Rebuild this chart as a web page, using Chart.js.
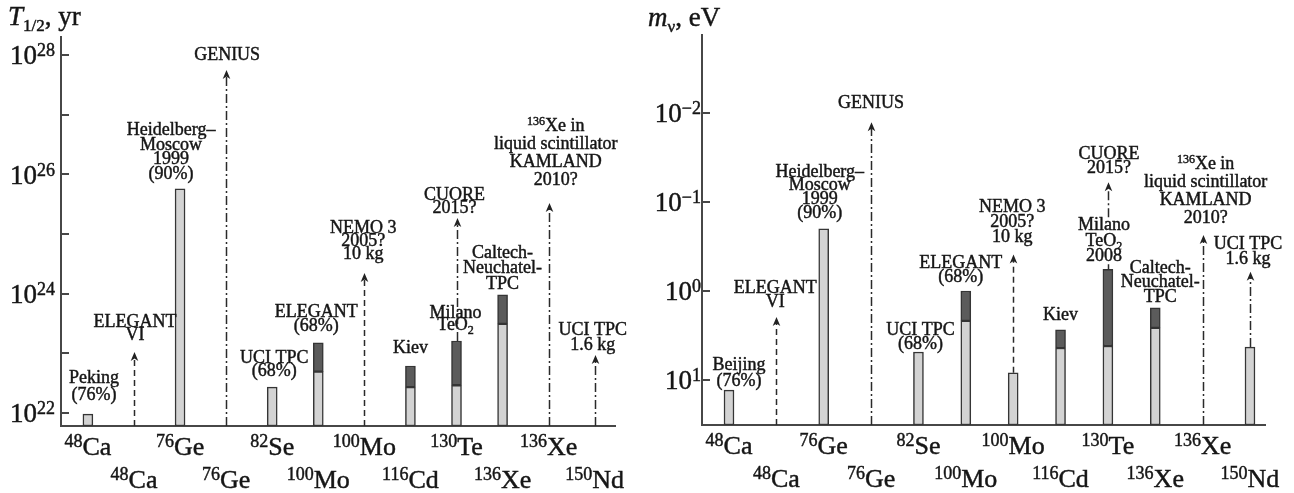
<!DOCTYPE html>
<html>
<head>
<meta charset="utf-8">
<script src="https://cdn.jsdelivr.net/npm/chart.js@4.4.1/dist/chart.umd.min.js"></script>
<style>
  html, body { margin: 0; padding: 0; background: #fff; }
  #wrap { position: relative; width: 1294px; height: 493px; overflow: hidden; background: #fff; }
  #halfLife { position: absolute; left: 0; top: 0; }
  #mass { position: absolute; left: 640px; top: 0; }
</style>
</head>
<body>
<div id="wrap">
  <canvas id="halfLife" width="640" height="493"></canvas>
  <canvas id="mass" width="654" height="493"></canvas>
</div>
<script>
// Isotope of each slot; even slots go on the first label row, odd slots on the second.
const isotopes = ['^{48}Ca', '^{48}Ca', '^{76}Ge', '^{76}Ge', '^{82}Se', '^{100}Mo',
                  '^{100}Mo', '^{116}Cd', '^{130}Te', '^{136}Xe', '^{136}Xe', '^{150}Nd'];

// Half-life limits, yr
const halfLifeMeasured = [9.5e21, null, 5.7e25, null, 2.7e22, 4.9e22, null, 2.7e22, 2.9e22, 3.1e23, null, null];
const halfLifeUpper    = [null, null, null, null, null, 1.5e23, null, 6.1e22, 1.6e23, 9.5e23, null, null];
const halfLifeGoal     = [null, 1.05e23, null, 5.6e27, null, null, 2.2e24, null, 1.85e25, null, 3.3e25, 9.3e22];
const halfLifeTicks      = [1e22, 1e23, 1e24, 1e25, 1e26, 1e27, 1e28];
const halfLifeTickLabels = ['10^{22}', '', '10^{24}', '', '10^{26}', '', '10^{28}'];

// Effective Majorana mass limits, eV
const massMeasured = [13.0, null, 0.20, null, 4.85, 2.17, 8.3, 4.37, 4.15, 2.6, null, 4.27];
const massUpper    = [null, null, null, null, null, 1.0, null, 2.74, 0.57, 1.55, null, null];
const massGoal     = [null, 1.96, null, 0.0127, null, null, 0.39, null, 0.060, null, 0.235, 0.61];
const massTicks      = [0.01, 0.1, 1, 10];
const massTickLabels = ['10^{−2}', '10^{−1}', '10^{0}', '10^{1}'];

// Line style of the projected-sensitivity arrows
const goalStyle = ['', 'dash', '', 'dashdot', '', '', 'dash', '', 'dashdot', '', 'dashdot', 'dashdot'];

// Experiment captions
const halfLifeBarNotes = [['Peking', '(76%)'], null, ['Heidelberg–', 'Moscow', '1999', '(90%)'], null,
  ['UCI TPC', '(68%)'], ['ELEGANT', '(68%)'], null, ['Kiev'], ['Milano', 'TeO_{2}'],
  ['Caltech-', 'Neuchatel-', 'TPC'], null, null];
const halfLifeGoalNotes = [null, ['ELEGANT', 'VI'], null, ['GENIUS'], null, null,
  ['NEMO 3', '2005?', '10 kg'], null, ['CUORE', '2015?'], null,
  ['^{136}Xe in', 'liquid scintillator', 'KAMLAND', '2010?'], ['UCI TPC', '1.6 kg']];
const massBarNotes = [['Beijing', '(76%)'], null, ['Heidelberg–', 'Moscow', '1999', '(90%)'], null,
  ['UCI TPC', '(68%)'], ['ELEGANT', '(68%)'], null, ['Kiev'], ['Milano', 'TeO_{2}', '2008'],
  ['Caltech-', 'Neuchatel-', 'TPC'], null, null];
const massGoalNotes = [null, ['ELEGANT', 'VI'], null, ['GENIUS'], null, null,
  ['NEMO 3', '2005?', '10 kg'], null, ['CUORE', '2015?'], null,
  ['^{136}Xe in', 'liquid scintillator', 'KAMLAND', '2010?'], ['UCI TPC', '1.6 kg']];

// Caption placement: [dx, dy of last baseline from mark top, line height, mask]
const halfLifeBarNoteAt = [[6, -14, 17], null, [-9, -10, 14.5], null, [2, -11, 13], [-2, -12, 14],
  null, [0, -13, 0], [-1, -11, 12], [0, -6, 15.5], null, null];
const halfLifeGoalNoteAt = [null, [1, -12, 13], null, [1, -10, 0], null, null, [-1, -14, 13], null,
  [-2, -5, 13], null, [7, -18, 18], [-2, -5, 15]];
const massBarNoteAt = [[10, -4, 16], null, [-4, -11, 13.7], null, [2, -3, 14], [-5, -9, 14],
  null, [0, -10, 0], [-4, -8, 15.5, true], [5, -6, 14.5], null, null];
const massGoalNoteAt = [null, [-1, -10, 14], null, [0, -14, 0], null, null, [-1, -13, 15], null,
  [1, -9, 14], null, [3, -12, 18], [-2, -8, 15]];

const SERIF = '"Liberation Serif", "Times New Roman", serif';
const INK = '#161616';
const AXIS = '#474747';

// ---- small rich-text helper: ^{sup}, _{sub}, *italic* ----
function parseRich(s) {
  const out = [];
  const re = /\^\{([^}]*)\}|_\{([^}]*)\}|\*([^*]+)\*|([^^_*]+)/g;
  let m;
  while ((m = re.exec(s))) {
    if (m[1] !== undefined) out.push({ t: m[1], k: 'sup' });
    else if (m[2] !== undefined) out.push({ t: m[2], k: 'sub' });
    else if (m[3] !== undefined) out.push({ t: m[3], k: 'it' });
    else out.push({ t: m[4], k: 'n' });
  }
  return out;
}
function richFont(k, st) {
  const size = (k === 'sup' || k === 'sub') ? st.small : st.size;
  return (k === 'it' ? 'italic ' : '') + size + 'px ' + SERIF;
}
function richWidth(ctx, segs, st) {
  let w = 0;
  for (const s of segs) { ctx.font = richFont(s.k, st); w += ctx.measureText(s.t).width; }
  return w;
}
function drawRich(ctx, str, x, y, st, align) {
  const segs = parseRich(str);
  const w = richWidth(ctx, segs, st);
  let cx = align === 'left' ? x : align === 'right' ? x - w : x - w / 2;
  ctx.textAlign = 'left';
  ctx.textBaseline = 'alphabetic';
  ctx.strokeStyle = INK;
  ctx.lineWidth = 0.45;
  for (const s of segs) {
    ctx.font = richFont(s.k, st);
    const dy = s.k === 'sup' ? -st.rise : s.k === 'sub' ? st.drop : 0;
    ctx.fillText(s.t, cx, y + dy);
    ctx.strokeText(s.t, cx, y + dy);
    cx += ctx.measureText(s.t).width;
  }
  return w;
}

const noteStyle  = { size: 18, small: 12, rise: 6, drop: 4 };
const tickStyle  = { size: 27, small: 18, rise: 8, drop: 0 };
const catStyle   = { size: 26, small: 18, rise: 8, drop: 0 };
const titleStyle = { size: 27, small: 17, rise: 0, drop: 6 };

function markTop(cfg, i) {
  return cfg.upper[i] != null ? cfg.upper[i] : cfg.measured[i];
}

function decor(cfg) {
  return {
    id: 'decor',
    afterDatasetsDraw(chart) {
      const ctx = chart.ctx, xs = chart.scales.x, ys = chart.scales.y, area = chart.chartArea;
      ctx.save();
      // inward tick marks on the value axis
      ctx.strokeStyle = AXIS;
      ctx.lineWidth = 2;
      cfg.ticks.forEach(v => {
        const y = Math.round(ys.getPixelForValue(v));
        ctx.beginPath();
        ctx.moveTo(area.left, y);
        ctx.lineTo(area.left + 8, y);
        ctx.stroke();
      });
      ctx.restore();
    },
    afterDraw(chart) {
      const ctx = chart.ctx, xs = chart.scales.x, ys = chart.scales.y, area = chart.chartArea;
      ctx.save();
      ctx.fillStyle = INK;

      // value-axis tick labels
      cfg.ticks.forEach((v, i) => {
        const lab = cfg.tickLabels[i];
        if (!lab) return;
        const y = ys.getPixelForValue(v) + 9.5;
        if (cfg.tickAlign === 'left') drawRich(ctx, lab, cfg.tickX, y, tickStyle, 'left');
        else drawRich(ctx, lab, area.left - 1, y, tickStyle, 'right');
      });

      // isotope labels in two staggered rows
      isotopes.forEach((lab, i) => {
        const x = xs.getPixelForValue(i);
        const y = area.bottom + (i % 2 === 0 ? 29 : 62);
        drawRich(ctx, lab, x, y, catStyle, 'center');
      });

      // axis title
      drawRich(ctx, cfg.title, 8, cfg.titleY, titleStyle, 'left');

      // experiment captions
      const drawNote = (lines, at, x0, yTop) => {
        if (!lines || !at) return;
        const [dx, dy, lh, mask] = at;
        const n = lines.length;
        lines.forEach((line, k) => {
          const y = yTop + dy - (n - 1 - k) * lh;
          const x = x0 + dx;
          if (mask) {
            const w = richWidth(ctx, parseRich(line), noteStyle);
            ctx.fillStyle = '#fff';
            ctx.fillRect(x - w / 2 - 1, y - 12, w + 2, 14);
            ctx.fillStyle = INK;
          }
          drawRich(ctx, line, x, y, noteStyle, 'center');
        });
      };
      isotopes.forEach((_, i) => {
        const x = xs.getPixelForValue(i);
        const top = markTop(cfg, i);
        if (top != null) drawNote(cfg.barNotes[i], cfg.barNoteAt[i], x, ys.getPixelForValue(top));
        if (cfg.goal[i] != null) drawNote(cfg.goalNotes[i], cfg.goalNoteAt[i], x, ys.getPixelForValue(cfg.goal[i]));
      });

      // projected-sensitivity arrows (drawn over the captions they pass through)
      cfg.goal.forEach((tip, i) => {
        if (tip == null) return;
        const x = Math.round(xs.getPixelForValue(i)) + 0.5;
        const top = markTop(cfg, i);
        const y0 = top != null ? ys.getPixelForValue(top) : area.bottom;
        const y1 = ys.getPixelForValue(tip);
        const masked = cfg.barNoteAt[i] && cfg.barNoteAt[i][3];
        ctx.strokeStyle = '#2a2a2a';
        ctx.lineWidth = 1.5;
        ctx.setLineDash(goalStyle[i] === 'dash' ? [6, 4] : [9, 3, 2, 3]);
        if (masked) {
          // keep the caption sitting on the bar readable
          const at = cfg.barNoteAt[i];
          const yb = ys.getPixelForValue(top) + at[1];
          const yTopNote = yb - (cfg.barNotes[i].length - 1) * at[2] - 13;
          ctx.beginPath();
          ctx.moveTo(x, y0); ctx.lineTo(x, yb + 3);
          ctx.moveTo(x, yTopNote); ctx.lineTo(x, y1 + 6);
          ctx.stroke();
        } else {
          ctx.beginPath();
          ctx.moveTo(x, y0);
          ctx.lineTo(x, y1 + 6);
          ctx.stroke();
        }
        ctx.setLineDash([]);
        ctx.fillStyle = '#222';
        ctx.beginPath();
        ctx.moveTo(x, y1);
        ctx.lineTo(x - 3.8, y1 + 9);
        ctx.lineTo(x, y1 + 6.5);
        ctx.lineTo(x + 3.8, y1 + 9);
        ctx.closePath();
        ctx.fill();
      });
      ctx.restore();
    }
  };
}

function buildChart(id, cfg) {
  const measuredPts = cfg.measured.map((v, i) => (v == null ? null : { x: i, y: v })).filter(Boolean);
  const upperPts = cfg.upper.map((v, i) => (v == null ? null : { x: i, y: [cfg.measured[i], v] })).filter(Boolean);
  const barCommon = {
    borderColor: '#353535',
    borderWidth: 1.5,
    borderSkipped: false,
    barThickness: 10,
    grouped: false
  };
  const axisCommon = {
    display: true,
    bounds: 'data',
    ticks: { display: false },
    grid: { display: true, drawOnChartArea: false, drawTicks: false },
    border: { display: true, color: AXIS, width: 2 }
  };
  return new Chart(document.getElementById(id), {
    type: 'bar',
    data: {
      datasets: [
        Object.assign({ label: 'measured', data: measuredPts, base: cfg.yBottom, backgroundColor: '#d3d3d3' }, barCommon),
        Object.assign({ label: 'range', data: upperPts, backgroundColor: '#5b5b5b' }, barCommon)
      ]
    },
    options: {
      responsive: false,
      animation: false,
      events: [],
      layout: { padding: cfg.padding },
      plugins: { legend: { display: false }, tooltip: { enabled: false } },
      scales: {
        x: Object.assign({}, axisCommon, { type: 'linear', min: cfg.xMin, max: cfg.xMax, offset: false }),
        y: Object.assign({}, axisCommon, {
          type: 'logarithmic',
          min: cfg.yMin,
          max: cfg.yMax,
          reverse: cfg.reverse,
          afterBuildTicks: scale => { scale.ticks = cfg.ticks.map(v => ({ value: v })); }
        })
      }
    },
    plugins: [decor(cfg)]
  });
}

buildChart('halfLife', {
  measured: halfLifeMeasured, upper: halfLifeUpper, goal: halfLifeGoal,
  ticks: halfLifeTicks, tickLabels: halfLifeTickLabels, tickAlign: 'left', tickX: 10,
  barNotes: halfLifeBarNotes, goalNotes: halfLifeGoalNotes,
  barNoteAt: halfLifeBarNoteAt, goalNoteAt: halfLifeGoalNoteAt,
  title: '*T*_{1/2}, yr', titleY: 25,
  yMin: Math.pow(10, 21.78), yMax: Math.pow(10, 28.3), yBottom: Math.pow(10, 21.78), reverse: false,
  xMin: -0.584, xMax: 11.44,
  padding: { left: 61, right: 25, top: 37, bottom: 67 }
});

buildChart('mass', {
  measured: massMeasured, upper: massUpper, goal: massGoal,
  ticks: massTicks, tickLabels: massTickLabels, tickAlign: 'right',
  barNotes: massBarNotes, goalNotes: massGoalNotes,
  barNoteAt: massBarNoteAt, goalNoteAt: massGoalNoteAt,
  title: '*m*_{ν}, eV', titleY: 26,
  yMin: Math.pow(10, -2.876), yMax: Math.pow(10, 1.506), yBottom: Math.pow(10, 1.506), reverse: true,
  xMin: -0.570, xMax: 11.317,
  padding: { left: 62, right: 29, top: 35, bottom: 68 }
});
</script>
</body>
</html>
